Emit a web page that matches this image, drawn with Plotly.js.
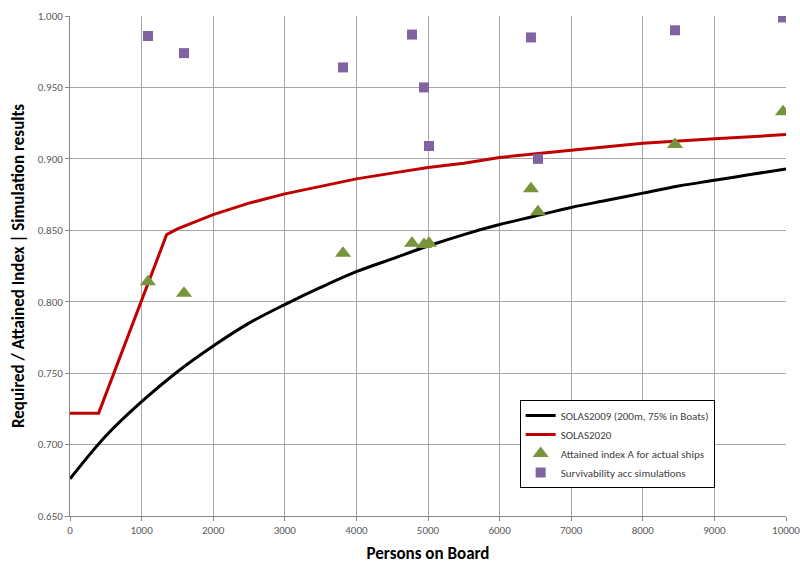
<!DOCTYPE html>
<html>
<head>
<meta charset="utf-8">
<script src="https://cdn.plot.ly/plotly-3.0.1.min.js"></script>
<style>html,body{margin:0;padding:0;background:#fff;overflow:hidden;}#chart{width:800px;height:566px;}</style>
</head>
<body>
<div id="chart"></div>
<script>
// SOLAS2009 (200m, 75% in Boats) curve
const solas2009X = [0, 500, 1000, 1500, 2000, 2500, 3000, 3500, 4000, 4500, 5000, 5500, 6000, 6500, 7000, 7500, 8000, 8500, 9000, 9500, 10000];
const solas2009Y = [0.676, 0.706, 0.730, 0.751, 0.769, 0.785, 0.798, 0.810, 0.821, 0.830, 0.839, 0.847, 0.854, 0.860, 0.866, 0.871, 0.876, 0.881, 0.885, 0.889, 0.893];

// SOLAS2020 curve
const solas2020X = [0, 400, 1350, 1500, 2000, 2500, 3000, 3500, 4000, 4500, 5000, 5500, 6000, 7000, 8000, 9000, 10000];
const solas2020Y = [0.722, 0.722, 0.847, 0.851, 0.861, 0.869, 0.8755, 0.881, 0.886, 0.890, 0.894, 0.897, 0.901, 0.906, 0.911, 0.914, 0.917];

// Actual ships
const shipsX = [1089, 1592, 3813, 4777, 4944, 5014, 6438, 6536, 8450, 9958];
const attainedY = [0.814, 0.806, 0.834, 0.841, 0.840, 0.841, 0.879, 0.863, 0.910, 0.933];
const survivY = [0.986, 0.974, 0.964, 0.987, 0.950, 0.909, 0.985, 0.900, 0.990, 0.999];

const xTicks = [0, 1000, 2000, 3000, 4000, 5000, 6000, 7000, 8000, 9000, 10000];
const yTicks = [0.65, 0.70, 0.75, 0.80, 0.85, 0.90, 0.95, 1.00];

const FONT = "Carlito, 'Liberation Sans Narrow', 'Liberation Sans', Arial, sans-serif";

const traces = [
  {x: solas2009X, y: solas2009Y, mode: 'lines', name: 'SOLAS2009 (200m, 75% in Boats)',
   line: {color: '#000000', width: 3, shape: 'spline'}},
  {x: solas2020X, y: solas2020Y, mode: 'lines', name: 'SOLAS2020',
   line: {color: '#C00000', width: 3}},
  {x: shipsX, y: attainedY, mode: 'markers', name: 'Attained index A for actual ships',
   marker: {symbol: 'triangle-up', size: 14, color: '#77933C'}},
  {x: shipsX, y: survivY, mode: 'markers', name: 'Survivability acc simulations',
   marker: {symbol: 'square', size: 10, color: '#8064A2'}}
];

const layout = {
  width: 800, height: 566,
  margin: {l: 70, r: 14, t: 16, b: 50},
  paper_bgcolor: '#ffffff', plot_bgcolor: '#ffffff',
  font: {family: FONT, size: 11, color: '#595959'},
  showlegend: true,
  legend: {x: 0.628, y: 0.232, xanchor: 'left', yanchor: 'top',
           bgcolor: '#ffffff', bordercolor: '#000000', borderwidth: 1,
           font: {family: FONT, size: 11, color: '#404040'}, tracegroupgap: 2, itemwidth: 30},
  xaxis: {
    range: [0, 10000], tickvals: xTicks, ticktext: xTicks.map(String),
    showgrid: true, gridcolor: '#A6A6A6', gridwidth: 1,
    showline: true, linecolor: '#868686', linewidth: 1,
    ticks: 'outside', ticklen: 4, tickcolor: '#868686', ticklabeloverflow: 'allow',
    zeroline: false, tickfont: {family: FONT, size: 11, color: '#595959'},
    title: {text: 'Persons on Board', font: {family: FONT, size: 17, color: '#000000', weight: 'bold'}, standoff: 10}
  },
  yaxis: {
    range: [0.65, 1.0], tickvals: yTicks, ticktext: yTicks.map(v => v.toFixed(3)),
    showgrid: true, gridcolor: '#A6A6A6', gridwidth: 1,
    showline: true, linecolor: '#868686', linewidth: 1,
    ticks: 'outside', ticklen: 4, tickcolor: '#868686',
    zeroline: false, tickfont: {family: FONT, size: 11, color: '#595959'},
    title: {text: 'Required / Attained Index | Simulation results', font: {family: FONT, size: 17, color: '#000000', weight: 'bold'}, standoff: 8}
  }
};

Plotly.newPlot('chart', traces, layout, {staticPlot: true, displayModeBar: false});
</script>
</body>
</html>
